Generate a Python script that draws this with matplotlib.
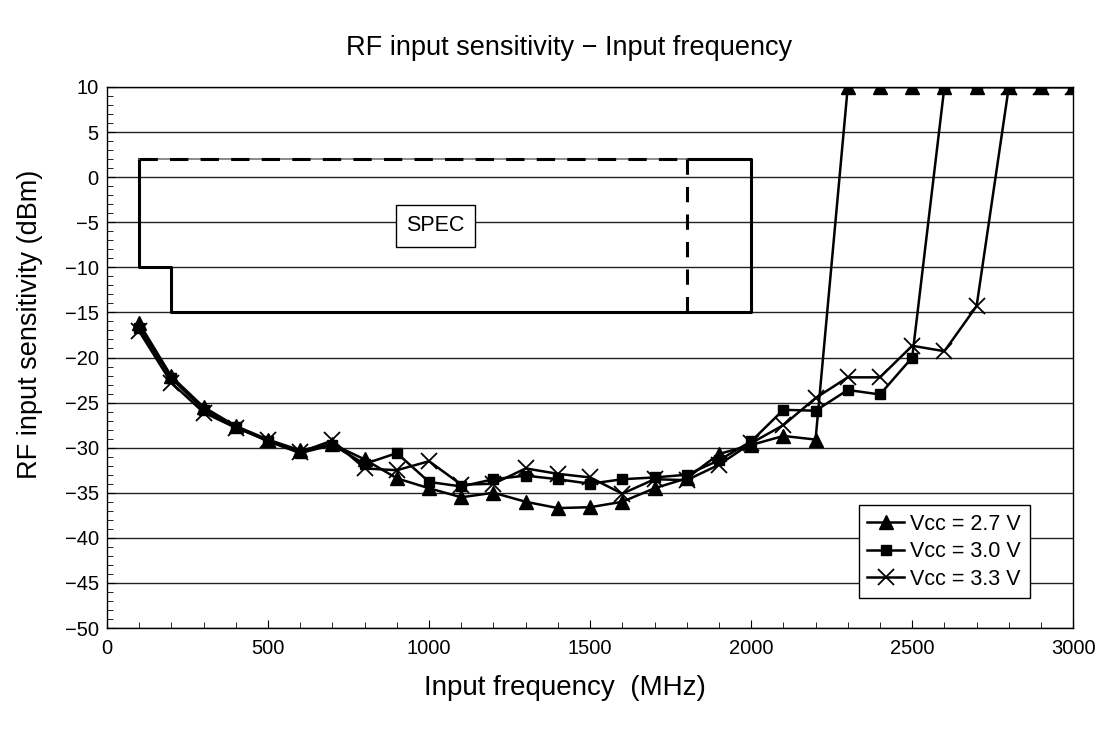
import matplotlib
matplotlib.use("Agg")
import matplotlib.pyplot as plt
from matplotlib.ticker import MultipleLocator

plt.rcParams['font.family'] = ['Liberation Sans', 'DejaVu Sans']

freq = [100, 200, 300, 400, 500, 600, 700, 800, 900, 1000,
        1100, 1200, 1300, 1400, 1500, 1600, 1700, 1800, 1900, 2000,
        2100, 2200, 2300, 2400, 2500, 2600, 2700, 2800, 2900, 3000]

vcc27 = [-16.2, -22.1, -25.5, -27.6, -29.1, -30.3, -29.6, -31.3, -33.4, -34.5,
         -35.5, -35.0, -36.0, -36.7, -36.6, -36.0, -34.5, -33.4, -30.7, -29.7,
         -28.7, -29.1, 10, 10, 10, 10, 10, 10, 10, 10]

vcc30 = [-16.7, -22.3, -25.8, -27.7, -29.3, -30.6, -29.7, -31.8, -30.6, -33.8,
         -34.3, -33.5, -33.1, -33.5, -34.0, -33.5, -33.3, -33.0, -31.4, -29.3,
         -25.8, -25.9, -23.6, -24.1, -20.0, 10, 10, 10, 10, 10]

vcc33 = [-17.1, -22.8, -26.1, -27.8, -29.2, -30.5, -29.2, -32.3, -32.5, -31.5,
         -34.1, -34.0, -32.3, -32.9, -33.3, -35.1, -33.5, -33.6, -31.9, -29.5,
         -27.5, -24.5, -22.2, -22.2, -18.7, -19.3, -14.3, 10, 10, 10]

labels = ["Vcc = 2.7 V", "Vcc = 3.0 V", "Vcc = 3.3 V"]

# SPEC outline
spec_x = [100, 100, 200, 200, 2000, 2000, 1800]
spec_y = [2, -10, -10, -15, -15, 2, 2]
spec_top_x = [100, 1800]
spec_top_y = [2, 2]
spec_dash_x = [1800, 1800]
spec_dash_y = [2, -15]

W, H = 1103, 729
fig = plt.figure(figsize=(W / 100, H / 100), dpi=100)
ax = fig.add_axes([0.097, 0.1385, 0.876, 0.7422])

ax.set_xlim(0, 3000)
ax.set_ylim(-50, 10)
ax.xaxis.set_major_locator(MultipleLocator(500))
ax.xaxis.set_minor_locator(MultipleLocator(100))
ax.yaxis.set_major_locator(MultipleLocator(5))
ax.yaxis.set_minor_locator(MultipleLocator(1))
ax.grid(axis='y', which='major', color='#222222', linewidth=1.0)
ax.set_axisbelow(True)
ax.tick_params(which='both', direction='in', labelsize=14.5, color='black')
ax.tick_params(which='major', length=6, pad=6)
ax.tick_params(axis='x', which='major', pad=8)
ax.tick_params(which='minor', length=4)
for s in ax.spines.values():
    s.set_linewidth(1.0)

# spec box
ax.plot(spec_x, spec_y, color='black', linewidth=2.2, zorder=3)
ax.plot(spec_top_x, spec_top_y, color='#777777', linewidth=1.2, zorder=3)
ax.plot(spec_top_x, spec_top_y, color='black', linewidth=2.2, dashes=(6, 4), zorder=3)
ax.plot(spec_dash_x, spec_dash_y, color='black', linewidth=2.2, dashes=(5, 4), zorder=3)
ax.text(1020, -5.4, "SPEC", ha='center', va='center', fontsize=15.5,
        bbox=dict(boxstyle='square,pad=0.5', facecolor='white', edgecolor='black', linewidth=1.0),
        zorder=4)

ax.plot(freq, vcc27, color='black', linewidth=1.8, marker='^', markersize=10, label=labels[0], zorder=5)
ax.plot(freq, vcc30, color='black', linewidth=1.8, marker='s', markersize=7.5, label=labels[1], zorder=5)
ax.plot(freq, vcc33, color='black', linewidth=1.8, marker='x', markersize=11, markeredgewidth=1.3,
        label=labels[2], zorder=5)

leg = ax.legend(loc='lower right', bbox_to_anchor=(0.955, 0.055), fontsize=15.5, frameon=True,
                fancybox=False, edgecolor='black', framealpha=1, handlelength=1.7,
                borderpad=0.4, labelspacing=0.3, handletextpad=0.3, borderaxespad=0)
leg.get_frame().set_linewidth(1.0)

fig.text(565 / W, 1 - 688 / H, "Input frequency  (MHz)", ha='center', va='center', fontsize=20)
fig.text(30 / W, 1 - 324 / H, "RF input sensitivity (dBm)", ha='center', va='center',
         rotation=90, fontsize=19.5)
fig.text(569 / W, 1 - 48 / H, "RF input sensitivity \u2212 Input frequency", ha='center', va='center',
         fontsize=19.5)

fig.savefig("out.png", dpi=100)
